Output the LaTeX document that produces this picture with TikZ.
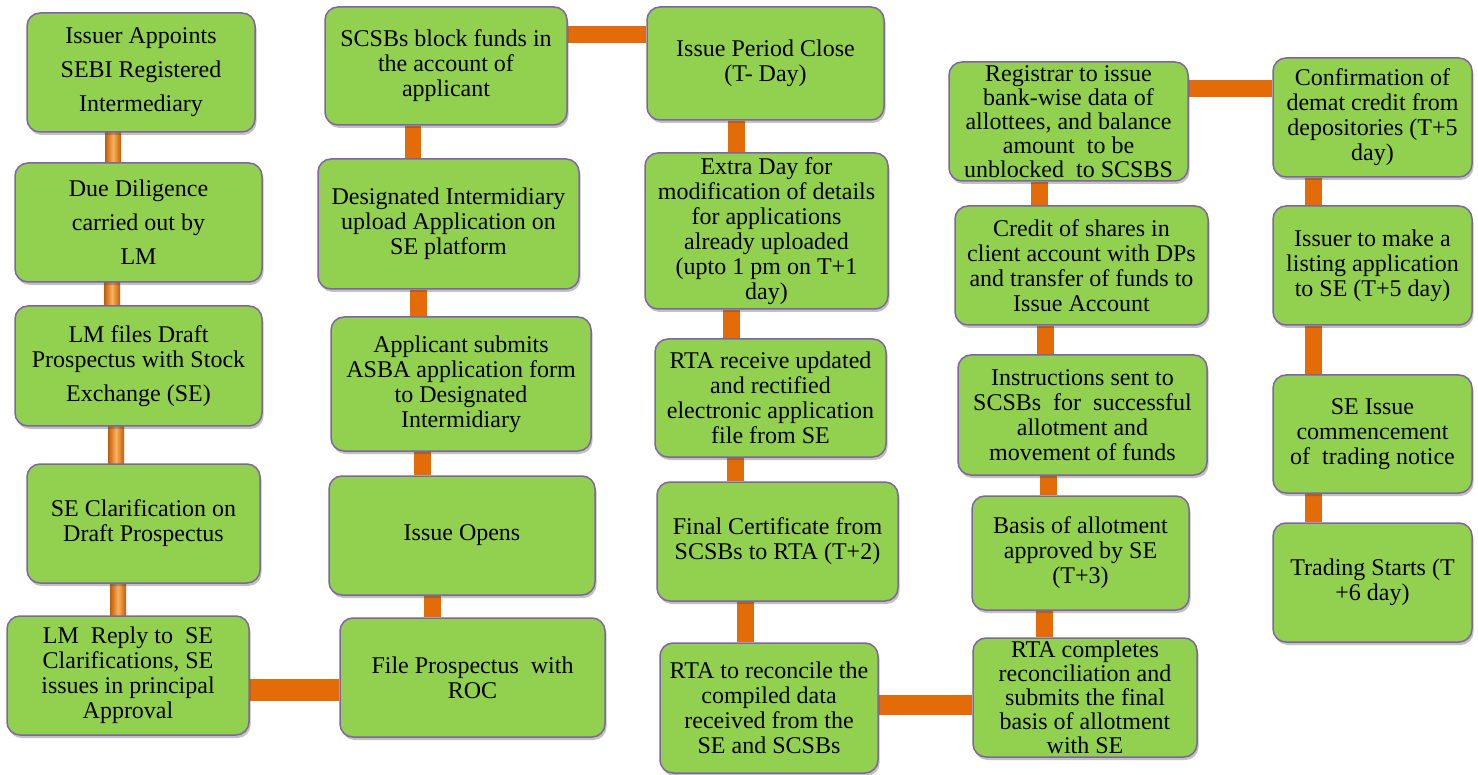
\documentclass[tikz,border=0pt]{standalone}
\usepackage{fontspec}
\setmainfont{Liberation Serif}
\usetikzlibrary{shadows,backgrounds}
\definecolor{boxfill}{HTML}{92D050}
\definecolor{boxline}{HTML}{8064A2}
\definecolor{rodcol}{HTML}{E36C09}
\definecolor{rodlight}{HTML}{FAB25C}
\tikzset{
  box/.style={draw=boxline, line width=1.5pt, fill=boxfill, rounded corners=13pt,
    align=center, inner sep=0pt, font=\fontsize{24}{25}\selectfont,
    drop shadow={shadow xshift=1.5pt, shadow yshift=-3pt, opacity=0.35, fill=black!70}},
  rodflat/.style={fill=rodcol, draw=none},
  rodshade/.style={left color=rodcol!85!black, right color=rodcol!85!black, middle color=rodlight, draw=none},
}
\newcommand{\mkbox}[7][]{\node[box, minimum width={#5-#3}, minimum height={#6-#4}, #1] (#2) at ({(#3+#5)/2},{(#4+#6)/2}) {#7};}
\newcommand{\vrod}[5][rodflat]{\fill[#1] (#2.south -| {#4-#5/2},0) rectangle (#3.north -| {#4+#5/2},0);}
\newcommand{\vrodup}[5][rodflat]{\fill[#1] (#2.north -| {#4-#5/2},0) rectangle (#3.south -| {#4+#5/2},0);}
\newcommand{\hrod}[4]{\fill[rodflat] (#1.east |- 0,{#3-#4/2}) rectangle (#2.west |- 0,{#3+#4/2});}
\begin{document}
\begin{tikzpicture}[x=1pt,y=-1pt]
\useasboundingbox (0,0) rectangle (1478,775);
% column 1
\mkbox[font=\fontsize{24}{34}\selectfont]{b1}{27}{13}{255}{132}{Issuer Appoints\\SEBI Registered\\Intermediary}
\mkbox[font=\fontsize{24}{34}\selectfont]{b2}{15}{163}{262}{282}{Due Diligence\\carried out by\\LM}
\mkbox{b3}{15}{306}{262}{426}{LM files Draft\\Prospectus with Stock\\[9pt]Exchange (SE)}
\mkbox{b4}{27}{464}{260}{583}{SE Clarification on\\Draft Prospectus}
\mkbox{b5}{7}{616}{249}{735}{LM\ \ Reply to\ \ SE\\Clarifications, SE\\issues in principal\\Approval}
% column 2
\mkbox{s1}{325}{7}{567}{125}{SCSBs block funds in\\the account of\\applicant}
\mkbox{s2}{318}{159}{579}{289}{Designated Intermidiary\\upload Application on\\SE platform}
\mkbox{s3}{331}{317}{591}{451}{Applicant submits\\ASBA application form\\to Designated\\Intermidiary}
\mkbox{s4}{329}{476}{595}{595}{Issue Opens}
\mkbox{s5}{340}{618}{605}{737}{File Prospectus\ \ with\\ROC}
% column 3
\mkbox{t1}{647}{7}{884}{120}{Issue Period Close\\(T- Day)}
\mkbox{t2}{645}{153}{888}{309}{Extra Day for\\modification of details\\for applications\\already uploaded\\(upto 1 pm on T+1\\day)}
\mkbox{t3}{655}{339}{886}{457}{RTA receive updated\\and rectified\\electronic application\\file from SE}
\mkbox{t4}{657}{482}{898}{601}{Final Certificate from\\SCSBs to RTA (T+2)}
\mkbox{t5}{660}{643}{878}{773}{RTA to reconcile the\\compiled data\\received from the\\SE and SCSBs}
% column 4
\mkbox[font=\fontsize{24}{24}\selectfont]{u1}{949}{62}{1188}{181}{Registrar to issue\\bank-wise data of\\allottees, and balance\\amount\ \ to be\\unblocked\ \ to SCSBS}
\mkbox{u2}{955}{206}{1208}{325}{Credit of shares in\\client account with DPs\\and transfer of funds to\\Issue Account}
\mkbox{u3}{958}{355}{1207}{475}{Instructions sent to\\SCSBs\ \ for\ \ successful\\allotment and\\movement of funds}
\mkbox{u4}{972}{496}{1189}{610}{Basis of allotment\\approved by SE\\(T+3)}
\mkbox[font=\fontsize{24}{24}\selectfont]{u5}{973}{638}{1197}{757}{RTA completes\\reconciliation and\\submits the final\\basis of allotment\\with SE}
% column 5
\mkbox{v1}{1273}{58}{1472}{177}{Confirmation of\\demat credit from\\depositories (T+5\\day)}
\mkbox{v2}{1273}{206}{1472}{325}{Issuer to make a\\listing application\\to SE (T+5 day)}
\mkbox{v3}{1273}{375}{1472}{493}{SE Issue\\commencement\\of\ \ trading notice}
\mkbox{v4}{1273}{523}{1472}{642}{Trading Starts (T\\+6 day)}
\begin{pgfonlayer}{background}
% column 1 rods (shaded)
\vrod[rodshade]{b1}{b2}{113}{16}
\vrod[rodshade]{b2}{b3}{112}{16}
\vrod[rodshade]{b3}{b4}{116}{16}
\vrod[rodshade]{b4}{b5}{118}{16}
\hrod{b5}{s5}{690}{22}
% column 2 rods (upwards)
\vrodup{s5}{s4}{432}{17}
\vrodup{s4}{s3}{422}{17}
\vrodup{s3}{s2}{418}{17}
\vrodup{s2}{s1}{413}{16}
\hrod{s1}{t1}{35}{17}
% column 3 rods
\vrod{t1}{t2}{736}{17}
\vrod{t2}{t3}{731}{17}
\vrod{t3}{t4}{735}{17}
\vrod{t4}{t5}{745}{17}
\hrod{t5}{u5}{705}{20}
% column 4 rods (upwards)
\vrodup{u5}{u4}{1044}{17}
\vrodup{u4}{u3}{1048}{17}
\vrodup{u3}{u2}{1045}{17}
\vrodup{u2}{u1}{1039}{17}
\hrod{u1}{v1}{89}{17}
% column 5 rods
\vrod{v1}{v2}{1313}{17}
\vrod{v2}{v3}{1313}{17}
\vrod{v3}{v4}{1313}{17}
\end{pgfonlayer}
\end{tikzpicture}
\end{document}
